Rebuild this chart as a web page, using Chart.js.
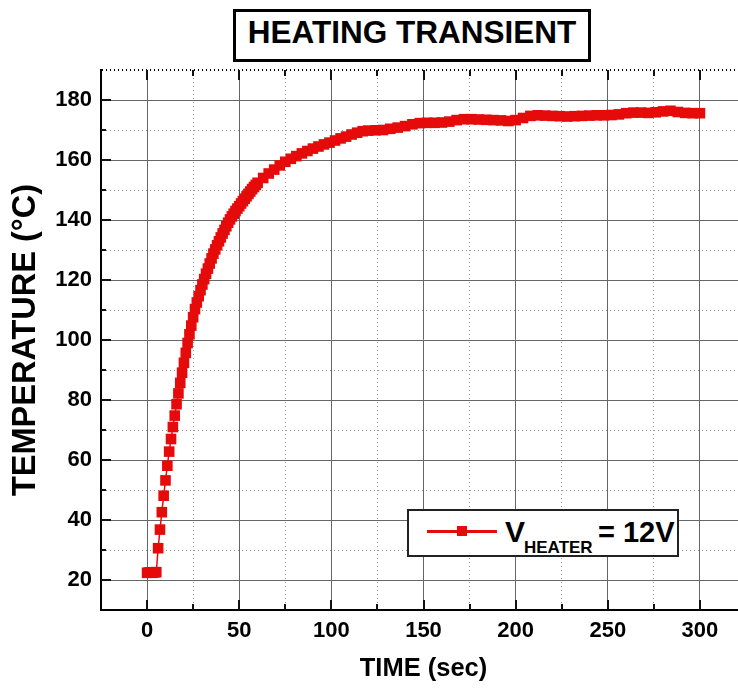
<!DOCTYPE html>
<html>
<head>
<meta charset="utf-8">
<script src="https://cdn.jsdelivr.net/npm/chart.js@4.4.1/dist/chart.umd.min.js"></script>
<style>
  html, body { margin: 0; padding: 0; overflow: hidden; background: #fff; }
  body { width: 738px; height: 688px; position: relative; font-family: "Liberation Sans", Arial, sans-serif; }
  #chart { position: absolute; left: 0; top: 0; }
  .title-box {
    position: absolute; left: 233px; top: 9px; width: 352px; height: 47px;
    border: 3px solid #000; background: #fff;
    font-weight: bold; font-size: 31.5px; line-height: 40px; text-align: center; color: #000;
  }
  .legend-box {
    position: absolute; left: 407px; top: 509px; width: 268px; height: 44px;
    border: 2px solid #222; background: #fff; color: #000; font-weight: bold;
  }
  .legend-box span { position: absolute; white-space: nowrap; }
  .legend-box .sample { left: 18px; top: 18.5px; width: 70px; height: 3px; background: #e50b0b; }
  .legend-box .marker { left: 48px; top: 15px; width: 10px; height: 10px; background: #e50b0b; }
  .legend-box .v { left: 96px; top: 5.6px; font-size: 30px; line-height: 30px; }
  .legend-box .sub { left: 115px; top: 27.6px; font-size: 17px; line-height: 17px; }
  .legend-box .eq { left: 189px; top: 6.5px; font-size: 29px; line-height: 29px; }
</style>
</head>
<body>
<canvas id="chart" width="760" height="688"></canvas>
<div class="title-box">HEATING TRANSIENT</div>
<div class="legend-box">
  <span class="sample"></span><span class="marker"></span>
  <span class="v">V</span><span class="sub">HEATER</span><span class="eq">= 12V</span>
</div>
<script>
// valeurs (temps en s, temperature en °C)
const timeSec = [
  0, 1, 2, 3, 4, 5, 6, 7, 8, 9, 10, 11, 12, 13, 14, 15, 16, 17, 18, 19, 20,
  21, 22, 23, 24, 25, 26, 27, 28, 29, 30, 31, 32, 33, 34, 35, 36, 37, 38, 39, 40,
  41, 42, 43, 44, 45, 46, 47, 48, 49, 50, 51, 52, 53, 54, 55, 56, 57, 58, 59, 60,
  63, 66, 69, 72, 75, 78, 81, 84, 87, 90, 93, 96, 99, 102, 105, 108, 111, 114, 117, 120,
  124, 128, 132, 136, 140, 144, 148, 152, 156, 160, 164, 168, 172, 176, 180,
  184, 188, 192, 196, 200, 204, 208, 212, 216, 220, 224, 228, 232, 236, 240,
  244, 248, 252, 256, 260, 264, 268, 272, 276, 280, 284, 288, 292, 296, 300
];
const tempC = [
  22.4, 22.5, 22.5, 22.4, 22.6, 22.6, 30.6, 36.8, 42.6, 48.1, 53.2, 58.1, 62.8, 67.0, 71.0, 74.8, 78.6, 82.2, 85.7, 89.1, 92.4,
  95.7, 99.0, 101.9, 104.8, 107.6, 110.3, 112.5, 114.6, 116.6, 118.5, 120.3, 122.1, 123.8, 125.5, 127.2, 128.8, 130.2, 131.6, 132.9, 134.2,
  135.5, 136.7, 137.9, 139.1, 140.2, 141.2, 142.1, 143.0, 143.8, 144.6, 145.5, 146.3, 147.1, 147.9, 148.7, 149.5, 150.3, 151.0, 151.7, 152.4,
  154.0, 155.5, 156.8, 158.2, 159.4, 160.4, 161.3, 162.2, 163.0, 163.8, 164.5, 165.2, 165.8, 166.5, 167.2, 167.8, 168.5, 169.1, 169.6, 169.8,
  169.9, 170.0, 170.4, 170.8, 171.3, 171.9, 172.3, 172.4, 172.4, 172.5, 172.8, 173.3, 173.6, 173.6, 173.5,
  173.4, 173.3, 173.2, 173.0, 173.3, 174.0, 174.7, 174.9, 174.8, 174.7, 174.6, 174.5, 174.6, 174.7, 174.8,
  174.9, 174.9, 175.0, 175.2, 175.6, 175.8, 175.8, 175.7, 175.9, 176.2, 176.4, 176.0, 175.7, 175.6, 175.6
];
const xLabels = [0, 50, 100, 150, 200, 250, 300];
const yLabels = [20, 40, 60, 80, 100, 120, 140, 160, 180];

const red = "#e50b0b";
const isMajorX = v => v % 50 === 0;
const isMajorY = v => v % 20 === 0;

// petits traits vers l'interieur du cadre
const inwardTicks = {
  id: "inwardTicks",
  afterDraw(chart) {
    const { ctx, chartArea: a, scales: { x, y } } = chart;
    ctx.save();
    ctx.strokeStyle = "#111";
    ctx.lineWidth = 2;
    ctx.beginPath();
    x.ticks.forEach(t => {
      if (t.value <= x.min || t.value >= x.max) return;
      const px = Math.round(x.getPixelForValue(t.value));
      const len = isMajorX(t.value) ? 10 : 6;
      ctx.moveTo(px, a.bottom); ctx.lineTo(px, a.bottom - len);
      ctx.moveTo(px, a.top); ctx.lineTo(px, a.top + len);
    });
    y.ticks.forEach(t => {
      if (t.value <= y.min || t.value >= y.max) return;
      const py = Math.round(y.getPixelForValue(t.value));
      const len = isMajorY(t.value) ? 10 : 5;
      ctx.moveTo(a.left, py); ctx.lineTo(a.left + len, py);
    });
    ctx.stroke();
    ctx.restore();
  }
};

Chart.defaults.font.family = "'Liberation Sans', Arial, sans-serif";
Chart.defaults.color = "#000";

new Chart(document.getElementById("chart"), {
  type: "scatter",
  data: {
    datasets: [{
      label: "VHEATER = 12V",
      data: timeSec.map((t, i) => ({ x: t, y: tempC[i] })),
      showLine: true,
      borderColor: red,
      borderWidth: 1.5,
      pointStyle: "rect",
      pointRadius: 7.5,
      pointBorderWidth: 0,
      pointBackgroundColor: red,
      pointBorderColor: red
    }]
  },
  options: {
    responsive: false,
    animation: false,
    devicePixelRatio: 1,
    layout: { padding: { top: 70, right: 14, bottom: 0, left: 0 } },
    plugins: { legend: { display: false }, tooltip: { enabled: false } },
    scales: {
      x: {
        type: "linear",
        min: -25,
        max: 325,
        afterFit: s => { s.height = 78; },
        ticks: {
          stepSize: 25,
          autoSkip: false,
          maxRotation: 0,
          padding: 8,
          font: { size: 22, weight: "bold" },
          callback: v => xLabels.includes(v) ? v : ""
        },
        grid: {
          drawTicks: false,
          color: ctx => isMajorX(ctx.tick.value) ? "#666" : "#9a9a9a",
          lineWidth: 1
        },
        border: {
          color: "#000",
          width: 2,
          dash: ctx => (ctx.tick && !isMajorX(ctx.tick.value)) ? [1, 3] : []
        },
        title: {
          display: true,
          text: "TIME (sec)",
          font: { size: 25.5, weight: "bold" },
          padding: { top: 0, bottom: 4 }
        }
      },
      y: {
        min: 10,
        max: 190,
        afterFit: s => { s.width = 101; },
        ticks: {
          stepSize: 10,
          autoSkip: false,
          padding: 9,
          font: { size: 22, weight: "bold" },
          callback: v => yLabels.includes(v) ? v : ""
        },
        grid: {
          drawTicks: false,
          color: ctx => ctx.tick.value === 190 ? "#000" : (isMajorY(ctx.tick.value) ? "#666" : "#9a9a9a"),
          lineWidth: ctx => ctx.tick.value === 190 ? 2 : 1
        },
        border: {
          color: "#000",
          width: 2,
          dash: ctx => (ctx.tick && !isMajorY(ctx.tick.value)) ? [1, 3] : []
        },
        title: {
          display: true,
          text: "TEMPERATURE (°C)",
          font: { size: 32.5, weight: "bold" },
          padding: { top: 7, bottom: 0 }
        }
      }
    }
  },
  plugins: [inwardTicks]
});
</script>
</body>
</html>
